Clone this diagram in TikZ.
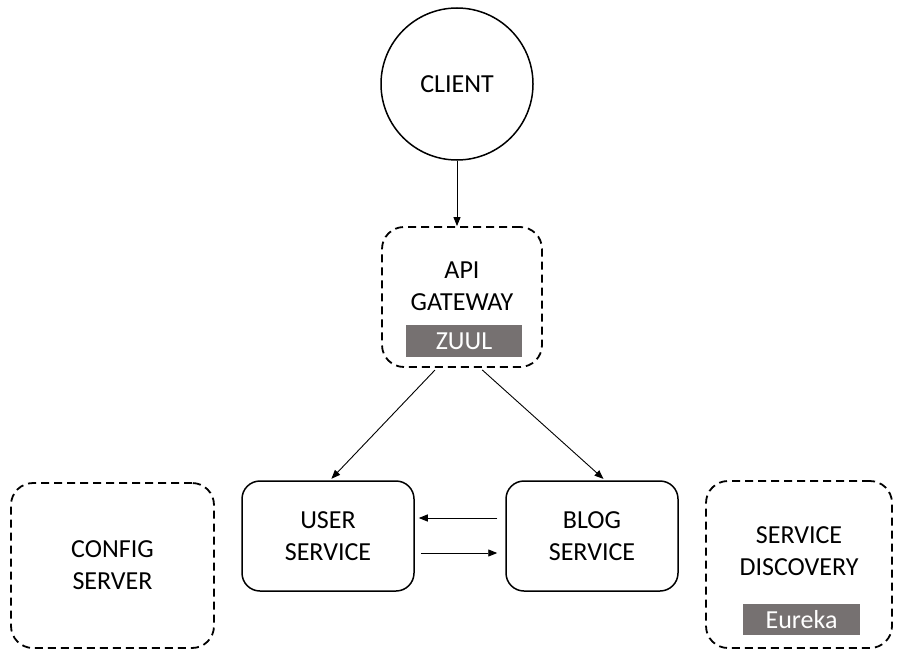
\documentclass[tikz,border=0pt]{standalone}
\usepackage{fontspec}
\setmainfont{Carlito}
\usetikzlibrary{arrows.meta}
\definecolor{tagGray}{HTML}{767171}
\begin{document}
\begin{tikzpicture}[x=1pt,y=-1pt,
  every node/.style={font=\fontsize{26}{32}\selectfont, align=center, inner sep=0pt},
  dashbox/.style={draw, line width=1.8pt, dash pattern=on 8pt off 5pt, rounded corners=22pt},
  solidbox/.style={draw, line width=1.5pt, rounded corners=18pt},
  tag/.style={fill=tagGray, text=white},
  arr/.style={-{Triangle[length=9pt,width=7pt]}, line width=0.9pt}]
\useasboundingbox (0,0) rectangle (904,661);
\node[draw, circle, line width=1.5pt, minimum size=152pt] (client) at (457,84) {CLIENT};
\node[dashbox, minimum width=160pt, minimum height=140pt] (api) at (462,297) {};
\node (apitext) at (462,286) {API\\GATEWAY};
\node[tag, minimum width=116pt, minimum height=32pt] (zuul) at (464,341) {ZUUL};
\node[solidbox, minimum width=172pt, minimum height=110pt] (user) at (328,536) {USER\\SERVICE};
\node[solidbox, minimum width=172pt, minimum height=110pt] (blog) at (592,536) {BLOG\\SERVICE};
\node[dashbox, minimum width=203pt, minimum height=165pt] (config) at (112.5,565.5) {CONFIG\\SERVER};
\node[dashbox, minimum width=186pt, minimum height=167pt] (disc) at (799,564.5) {};
\node (disctext) at (799,551) {SERVICE\\DISCOVERY};
\node[tag, minimum width=117pt, minimum height=31pt] (eureka) at (801.5,619.5) {Eureka};
\draw[arr] (client.south) -- (client.south |- api.north);
\draw[arr, shorten <=3pt, shorten >=2pt] ([xshift=-25pt]api.south) -- ([xshift=2pt]user.north);
\draw[arr, shorten <=3pt, shorten >=2pt] ([xshift=18pt]api.south) -- ([xshift=13pt]blog.north);
\draw[arr, shorten <=8pt, shorten >=4pt] ([yshift=18pt]blog.west) -- ([yshift=18pt]user.east);
\draw[arr, shorten <=6pt, shorten >=8pt] ([yshift=-17pt]user.east) -- ([yshift=-17pt]blog.west);
\end{tikzpicture}
\end{document}
